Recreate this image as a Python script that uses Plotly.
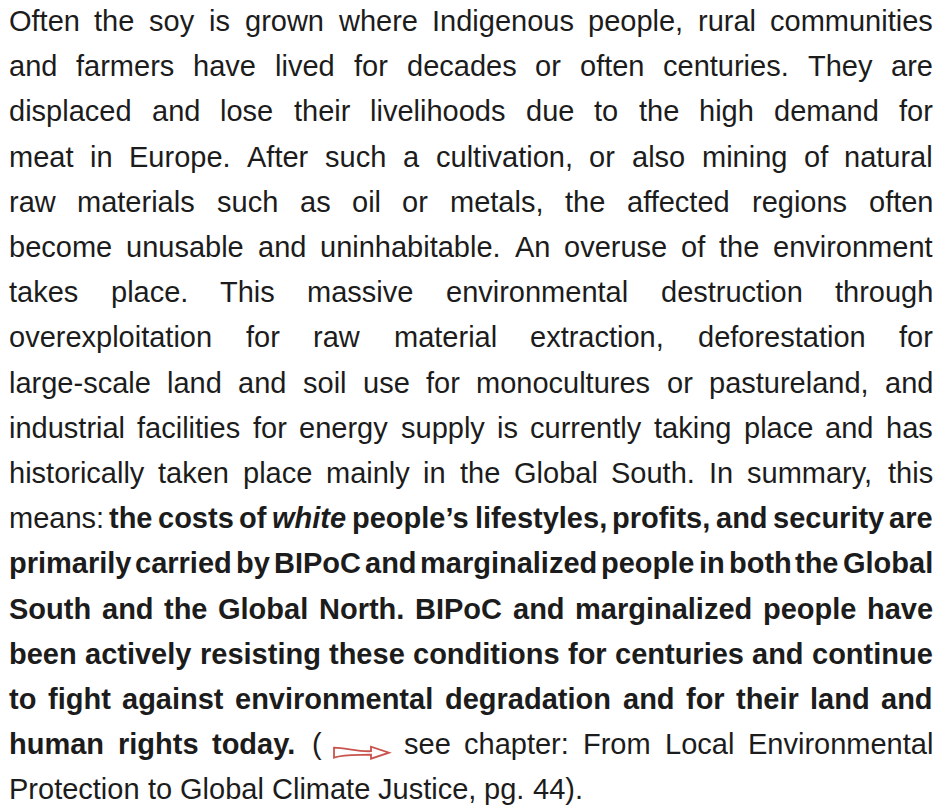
import plotly.graph_objects as go

# ---------------- data: the paragraph, line by line ----------------
LINES = [
    "Often the soy is grown where Indigenous people, rural communities",
    "and farmers have lived for decades or often centuries. They are",
    "displaced and lose their livelihoods due to the high demand for",
    "meat in Europe. After such a cultivation, or also mining of natural",
    "raw materials such as oil or metals, the affected regions often",
    "become unusable and uninhabitable. An overuse of the environment",
    "takes place. This massive environmental destruction through",
    "overexploitation for raw material extraction, deforestation for",
    "large-scale land and soil use for monocultures or pastureland, and",
    "industrial facilities for energy supply is currently taking place and has",
    "historically taken place mainly in the Global South. In summary, this",
    "means: the costs of white people\u2019s lifestyles, profits, and security are",
    "primarily carried by BIPoC and marginalized people in both the Global",
    "South and the Global North. BIPoC and marginalized people have",
    "been actively resisting these conditions for centuries and continue",
    "to fight against environmental degradation and for their land and",
    "human rights today. ( {arrow} see chapter: From Local Environmental",
    "Protection to Global Climate Justice, pg. 44).",
]
# word index ranges (inclusive) set in bold, per line index
BOLD_RANGES = {11: (1, 10), 12: (0, 99), 13: (0, 99), 14: (0, 99), 15: (0, 99), 16: (0, 2)}
ITALIC_WORDS = {11: [4]}
LAST_LINE = len(LINES) - 1

# ---------------- style ----------------
FONT = "Liberation Sans"
SIZE = 29
COLOR = "#1c1c1c"
ARROW_COLOR = "#c9544e"
X_LEFT, X_RIGHT = 8, 932
Y_FIRST, LINE_STEP = 21, 45.2
PAGE_W, PAGE_H = 945, 808
BODY_MARGIN = 8  # default html body margin: figure starts at (8, 8)

# Helvetica / Arial metrics (Liberation Sans is metric compatible)
REG = dict(zip("abcdefghijklmnopqrstuvwxyz",
               [556, 556, 500, 556, 556, 278, 556, 556, 222, 222, 500, 222, 833, 556, 556, 556, 556, 333, 500, 278, 556, 500, 722, 500, 500, 500]))
REG.update(zip("ABCDEFGHIJKLMNOPQRSTUVWXYZ",
               [667, 667, 722, 722, 667, 611, 778, 722, 278, 500, 667, 556, 833, 722, 778, 667, 778, 722, 667, 611, 722, 667, 944, 667, 667, 611]))
REG.update({" ": 278, ",": 278, ".": 278, ":": 278, ";": 278, "-": 333, "(": 333, ")": 333, "'": 191, "\u2019": 222})
REG.update({d: 556 for d in "0123456789"})
BLD = dict(zip("abcdefghijklmnopqrstuvwxyz",
               [556, 611, 556, 611, 556, 333, 611, 611, 278, 278, 556, 278, 889, 611, 611, 611, 611, 389, 556, 333, 611, 556, 778, 556, 556, 500]))
BLD.update(zip("ABCDEFGHIJKLMNOPQRSTUVWXYZ",
               [722, 722, 722, 722, 667, 611, 778, 722, 278, 556, 722, 611, 833, 722, 778, 667, 778, 722, 667, 611, 722, 667, 944, 667, 667, 611]))
BLD.update({" ": 278, ",": 278, ".": 278, ":": 333, ";": 333, "-": 333, "(": 333, ")": 333, "'": 238, "\u2019": 278})
BLD.update({d: 556 for d in "0123456789"})

ARROW_W = 55


def width(word, bold):
    if word == "{arrow}":
        return ARROW_W
    tab = BLD if bold else REG
    return sum(tab.get(c, 556) for c in word) / 1000.0 * SIZE


fig = go.Figure()
annotations = []
shapes = []

for li, line in enumerate(LINES):
    words = line.split(" ")
    y = Y_FIRST + LINE_STEP * li
    br = BOLD_RANGES.get(li)
    bolds = [br is not None and br[0] <= i <= br[1] for i in range(len(words))]
    widths = [width(w, b) for w, b in zip(words, bolds)]
    if li == LAST_LINE:
        gap = REG[" "] / 1000.0 * SIZE
    else:
        gap = (X_RIGHT - X_LEFT - sum(widths)) / (len(words) - 1)
    x = X_LEFT
    for i, w in enumerate(words):
        if w == "{arrow}":
            ax, yc = x, y
            path = (f"M {ax},{yc+3.5} C {ax+12},{yc+3.5} {ax+22},{yc+7.5} {ax+37},{yc+7} "
                    f"L {ax+37},{yc+2.5} L {ax+55},{yc+8.5} L {ax+37},{yc+14.5} L {ax+37},{yc+10.5} "
                    f"C {ax+22},{yc+11} {ax+10},{yc+10} {ax},{yc+13.5} Z")
            shapes.append(dict(type="path", path=path, xref="x", yref="y",
                               line=dict(color=ARROW_COLOR, width=1.8), fillcolor="white"))
        else:
            t = w
            if i in ITALIC_WORDS.get(li, []):
                t = f"<i>{t}</i>"
            if bolds[i]:
                t = f"<b>{t}</b>"
            annotations.append(dict(x=x, y=y, xref="x", yref="y", text=t, showarrow=False,
                                    xanchor="left", yanchor="middle", borderpad=0,
                                    font=dict(family=FONT, size=SIZE, color=COLOR)))
        x += widths[i] + gap

fig.update_layout(
    width=PAGE_W - BODY_MARGIN, height=PAGE_H - BODY_MARGIN,
    margin=dict(l=0, r=0, t=0, b=0),
    paper_bgcolor="white", plot_bgcolor="white",
    xaxis=dict(range=[BODY_MARGIN, PAGE_W], visible=False, fixedrange=True),
    yaxis=dict(range=[PAGE_H, BODY_MARGIN], visible=False, fixedrange=True),
    annotations=annotations, shapes=shapes, showlegend=False,
)
fig.write_html("out.html", config={"displayModeBar": False})
